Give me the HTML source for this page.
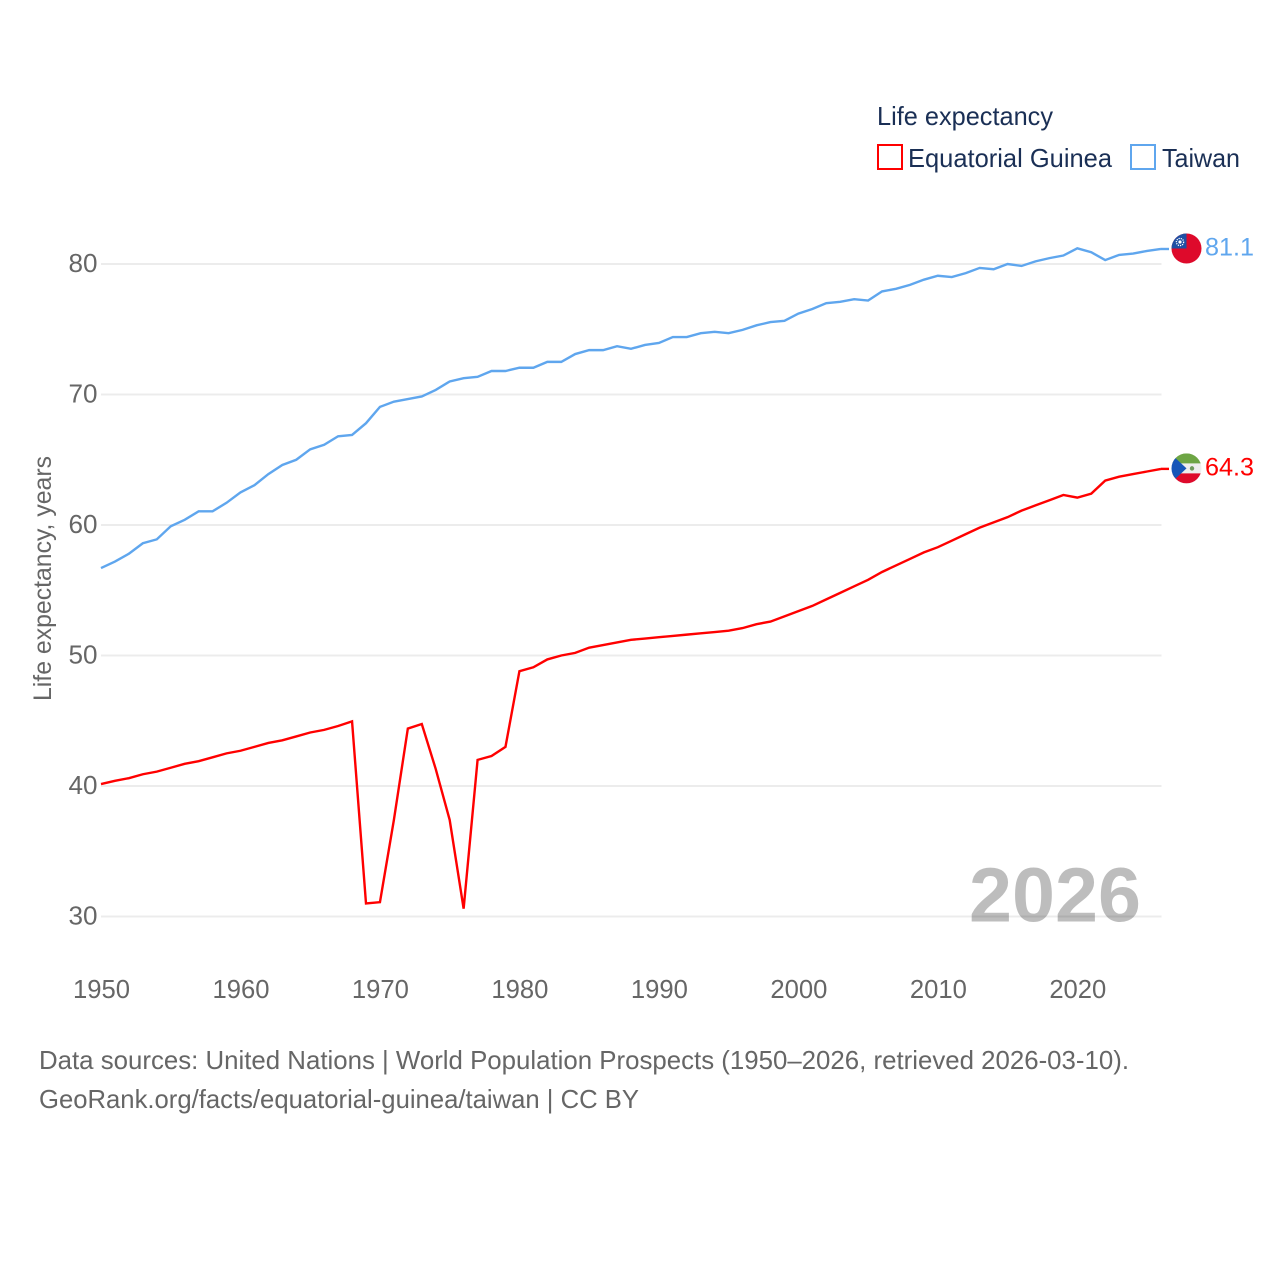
<!DOCTYPE html>
<html lang="en">
<head>
<meta charset="utf-8">
<title>Life expectancy: Equatorial Guinea and Taiwan</title>
<style>
html,body{margin:0;padding:0;background:#fff;}
svg{display:block;}
text{font-family:"Liberation Sans",sans-serif;}
</style>
</head>
<body>
<svg id="chart" xmlns="http://www.w3.org/2000/svg" width="1280" height="1280" viewBox="0 0 1280 1280">
  <defs>
    <clipPath id="flag-clip"><circle cx="0" cy="0" r="15"></circle></clipPath>
  </defs>
  <rect x="0" y="0" width="1280" height="1280" fill="#fff"></rect>

  <g>
    <text x="877" y="125" font-size="26" fill="#1a2f55" textLength="176" lengthAdjust="spacingAndGlyphs">Life expectancy</text>
    <g>
      <rect x="878" y="145" width="24" height="24" fill="#fff" stroke="#ff0000" stroke-width="2"></rect>
      <text x="908" y="167" font-size="26" fill="#1a2f55" textLength="204" lengthAdjust="spacingAndGlyphs">Equatorial Guinea</text>
    </g>
    <g>
      <rect x="1131" y="145" width="24" height="24" fill="#fff" stroke="#5fa6ee" stroke-width="2"></rect>
      <text x="1162" y="167" font-size="26" fill="#1a2f55" textLength="78" lengthAdjust="spacingAndGlyphs">Taiwan</text>
    </g>
  </g>

  <text transform="translate(51,701) rotate(-90)" x="0" y="0" font-size="25" fill="#666666" textLength="245" lengthAdjust="spacingAndGlyphs">Life expectancy, years</text>

  <g id="grid"></g>
  <g id="y-ticks"></g>
  <g id="x-ticks"></g>

  <text x="969" y="921.5" font-size="77" font-weight="700" fill="#000000" fill-opacity="0.26" textLength="172" lengthAdjust="spacingAndGlyphs">2026</text>

  <g id="series"></g>

  <g id="flag-taiwan">
    <g clip-path="url(#flag-clip)">
      <rect x="-15" y="-15" width="30" height="30" fill="#de0a2b"></rect>
      <rect x="-15" y="-15" width="15" height="15" fill="#1f4fa3"></rect>
      <circle cx="-6.5" cy="-6.5" r="3.6" fill="none" stroke="#fff" stroke-width="1.3" stroke-dasharray="1.2 1"></circle>
      <circle cx="-6.5" cy="-6.5" r="1.6" fill="#fff"></circle>
    </g>
  </g>
  <g id="flag-guinea">
    <g clip-path="url(#flag-clip)">
      <rect x="-15" y="-15" width="30" height="30" fill="#eeeeee"></rect>
      <rect x="-15" y="-15" width="30" height="10" fill="#6da544"></rect>
      <rect x="-15" y="5" width="30" height="10" fill="#de0a2b"></rect>
      <polygon points="-15,-14 0,0 -15,14" fill="#1656b8"></polygon>
      <circle cx="5.5" cy="0" r="2.2" fill="#6f9a5c"></circle>
    </g>
  </g>

  <g>
    <text x="39" y="1069" font-size="26" fill="#666666" textLength="1090" lengthAdjust="spacingAndGlyphs">Data sources: United Nations | World Population Prospects (1950–2026, retrieved 2026-03-10).</text>
    <text x="39" y="1108" font-size="26" fill="#666666" textLength="600" lengthAdjust="spacingAndGlyphs">GeoRank.org/facts/equatorial-guinea/taiwan | CC BY</text>
  </g>
</svg>

<script>
const startYear = 1950;
const endYear = 2026;
const yTickValues = [30, 40, 50, 60, 70, 80];
const xTickValues = [1950, 1960, 1970, 1980, 1990, 2000, 2010, 2020];
const guineaValues = [
  40.15, 40.4, 40.6, 40.9, 41.1, 41.4, 41.7, 41.9, 42.2, 42.5,
  42.7, 43.0, 43.3, 43.5, 43.8, 44.1, 44.3, 44.6, 44.95, 31.0,
  31.1, 37.4, 44.4, 44.75, 41.3, 37.4, 30.6, 42.0, 42.3, 43.0,
  48.8, 49.1, 49.7, 50.0, 50.2, 50.6, 50.8, 51.0, 51.2, 51.3,
  51.4, 51.5, 51.6, 51.7, 51.8, 51.9, 52.1, 52.4, 52.6, 53.0,
  53.4, 53.8, 54.3, 54.8, 55.3, 55.8, 56.4, 56.9, 57.4, 57.9,
  58.3, 58.8, 59.3, 59.8, 60.2, 60.6, 61.1, 61.5, 61.9, 62.3,
  62.1, 62.4, 63.4, 63.7, 63.9, 64.1, 64.3
];
const taiwanValues = [
  56.7, 57.2, 57.8, 58.6, 58.9, 59.9, 60.4, 61.05, 61.05, 61.7,
  62.5, 63.05, 63.9, 64.6, 65.0, 65.8, 66.15, 66.8, 66.9, 67.8,
  69.05, 69.45, 69.65, 69.85, 70.35, 71.0, 71.25, 71.35, 71.8, 71.8,
  72.05, 72.05, 72.5, 72.5, 73.1, 73.4, 73.4, 73.7, 73.5, 73.8,
  73.95, 74.4, 74.4, 74.7, 74.8, 74.7, 74.95, 75.3, 75.55, 75.65,
  76.2, 76.55, 77.0, 77.1, 77.3, 77.2, 77.9, 78.1, 78.4, 78.8,
  79.1, 79.0, 79.3, 79.7, 79.6, 80.0, 79.85, 80.2, 80.45, 80.65,
  81.2, 80.9, 80.3, 80.7, 80.8, 81.0, 81.15
];
const guineaEndLabel = "64.3";
const taiwanEndLabel = "81.1";

const SVG_NS = "http://www.w3.org/2000/svg";
const PLOT_LEFT = 101;
const PLOT_RIGHT = 1161;
const Y_AT_30 = 916.5;
const Y_AT_80 = 264;

function xScale(year) {
  return PLOT_LEFT + (year - startYear) * (PLOT_RIGHT - PLOT_LEFT) / (endYear - startYear);
}
function yScale(value) {
  return Y_AT_30 + (value - 30) * (Y_AT_80 - Y_AT_30) / 50;
}
function make(tag, attrs) {
  const el = document.createElementNS(SVG_NS, tag);
  Object.keys(attrs).forEach(function (k) { el.setAttribute(k, attrs[k]); });
  return el;
}

const gridGroup = document.getElementById("grid");
const yTickGroup = document.getElementById("y-ticks");
yTickValues.forEach(function (v) {
  const line = make("line", { x1: PLOT_LEFT, x2: PLOT_RIGHT + 0.5, y1: yScale(v), y2: yScale(v), stroke: "#ececec", "stroke-width": 2 });
  
  
  gridGroup.appendChild(line);

  const label = make("text", { x: 97.5, y: yScale(v) + 8, "text-anchor": "end", "font-size": 26, fill: "#666666", textLength: 29, lengthAdjust: "spacingAndGlyphs" });
  
  
  label.textContent = String(v);
  yTickGroup.appendChild(label);
});

const xTickGroup = document.getElementById("x-ticks");
xTickValues.forEach(function (year) {
  const label = make("text", { x: xScale(year) + 0.5, y: 998, "text-anchor": "middle", "font-size": 25.5, fill: "#666666", textLength: 57, lengthAdjust: "spacingAndGlyphs" });
  
  
  label.textContent = String(year);
  xTickGroup.appendChild(label);
});

function drawSeries(values, color) {
  const group = document.getElementById("series");
  const pts = values.map(function (v, i) {
    return xScale(startYear + i).toFixed(2) + "," + yScale(v).toFixed(2);
  }).join(" ");
  const line = make("polyline", { points: pts, fill: "none", stroke: color, "stroke-width": 2.4, "stroke-linejoin": "miter" });
  
  
  group.appendChild(line);

  const lastY = yScale(values[values.length - 1]);
  const connector = make("line", { x1: PLOT_RIGHT, x2: 1169, y1: lastY, y2: lastY, stroke: color, "stroke-width": 2.4 });
  
  
  group.appendChild(connector);
}
drawSeries(taiwanValues, "#5fa6ee");
drawSeries(guineaValues, "#ff0000");

function placeEnd(flagId, values, text, color) {
  const y = yScale(values[values.length - 1]);
  document.getElementById(flagId).setAttribute("transform", "translate(1186.5," + (y - 0.5) + ")");
  const label = make("text", { x: 1205, y: y + 6.5, "font-size": 25, fill: color, textLength: 49, lengthAdjust: "spacingAndGlyphs" });
  
  
  label.textContent = text;
  document.getElementById("chart").appendChild(label);
}
placeEnd("flag-taiwan", taiwanValues, taiwanEndLabel, "#5fa6ee");
placeEnd("flag-guinea", guineaValues, guineaEndLabel, "#ff0000");
</script>
</body>
</html>
